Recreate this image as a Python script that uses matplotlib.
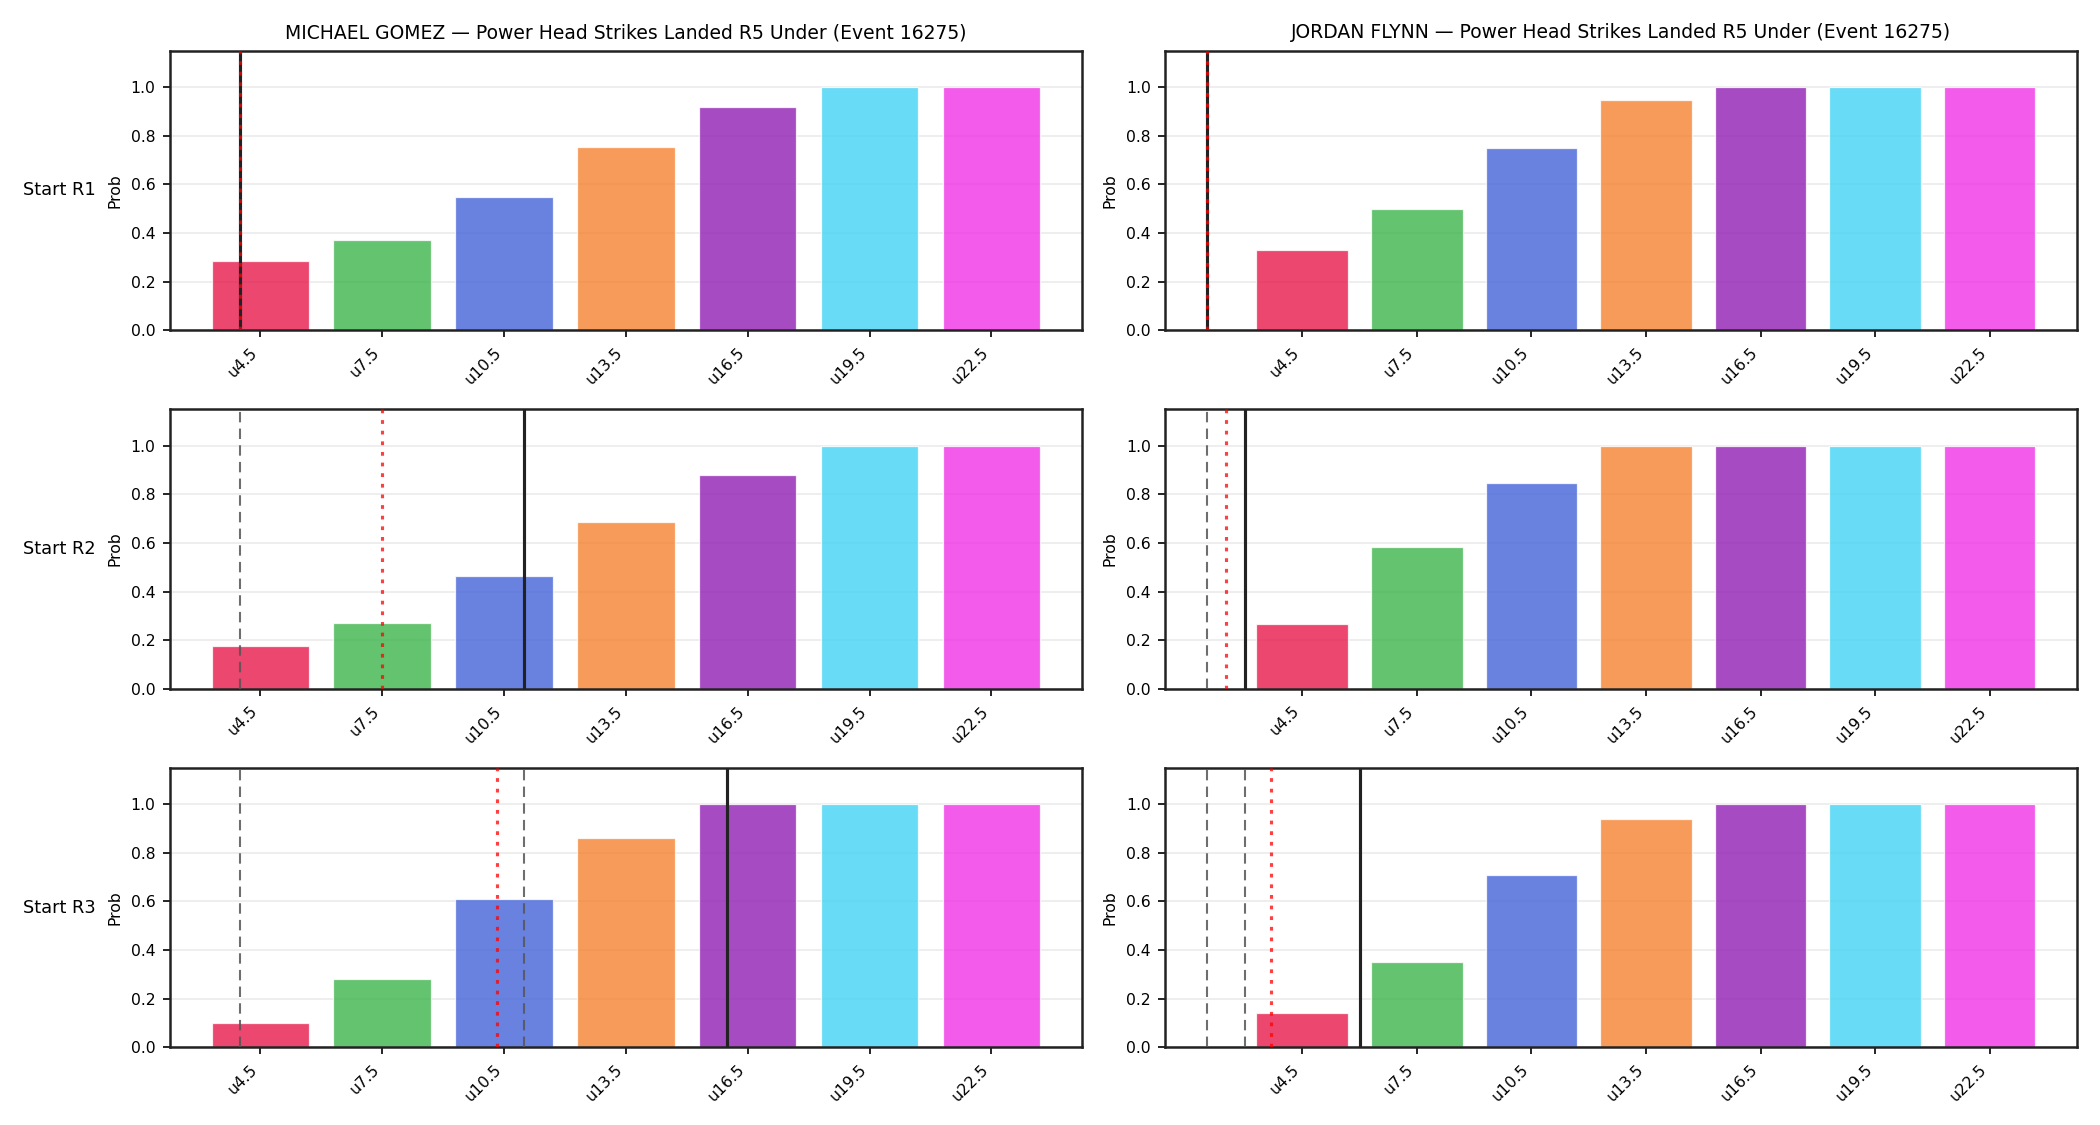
import matplotlib
matplotlib.use("Agg")
import matplotlib.pyplot as plt

thresholds = [4.5, 7.5, 10.5, 13.5, 16.5, 19.5, 22.5]
tick_labels = ["u4.5", "u7.5", "u10.5", "u13.5", "u16.5", "u19.5", "u22.5"]
fighters = ["MICHAEL GOMEZ", "JORDAN FLYNN"]
row_labels = ["Start R1", "Start R2", "Start R3"]
colors = ["#e6194b", "#3cb44b", "#4363d8", "#f58231", "#911eb4", "#42d4f4", "#f032e6"]

# probabilities [fighter][row]
gomez_r1 = [0.285, 0.37, 0.55, 0.755, 0.92, 1.0, 1.0]
gomez_r2 = [0.175, 0.27, 0.465, 0.685, 0.88, 1.0, 1.0]
gomez_r3 = [0.10, 0.28, 0.61, 0.86, 1.0, 1.0, 1.0]
flynn_r1 = [0.33, 0.50, 0.75, 0.945, 1.0, 1.0, 1.0]
flynn_r2 = [0.265, 0.585, 0.845, 1.0, 1.0, 1.0, 1.0]
flynn_r3 = [0.14, 0.35, 0.71, 0.94, 1.0, 1.0, 1.0]

# marker lines: solid (current), dashed (previous), dotted (pace)
gomez_solid = [[4.0], [11.0], [16.0]]
gomez_dashed = [[], [4.0], [4.0, 11.0]]
gomez_dotted = [[4.0], [7.5], [10.33]]
flynn_solid = [[2.0], [3.0], [6.0]]
flynn_dashed = [[], [2.0], [2.0, 3.0]]
flynn_dotted = [[2.0], [2.5], [3.67]]

probs = [[gomez_r1, gomez_r2, gomez_r3], [flynn_r1, flynn_r2, flynn_r3]]
solids = [gomez_solid, flynn_solid]
dasheds = [gomez_dashed, flynn_dashed]
dotteds = [gomez_dotted, flynn_dotted]

fig, axes = plt.subplots(3, 2, figsize=(14, 7.5), dpi=150)
fig.subplots_adjust(left=0.081, right=0.989, top=0.955, bottom=0.069,
                    wspace=0.092, hspace=0.282)

for c in range(2):
    for r in range(3):
        ax = axes[r, c]
        ax.bar(thresholds, probs[c][r], width=2.4, color=colors, alpha=0.8,
               edgecolor="white", linewidth=0.6, zorder=2)
        for x in dasheds[c][r]:
            ax.axvline(x, color="#555555", linestyle=(0, (5, 3)), linewidth=1.0,
                       alpha=0.85, zorder=3)
        for x in solids[c][r]:
            ax.axvline(x, color="#222222", linestyle="-", linewidth=1.5, zorder=3)
        for x in dotteds[c][r]:
            ax.axvline(x, color="red", linestyle=(0, (1.2, 2.2)), linewidth=1.5,
                       alpha=0.75, zorder=4)
        ax.set_ylim(0, 1.15)
        ax.set_xticks(thresholds)
        ax.set_xticklabels(tick_labels, rotation=45, ha="right", fontsize=7.5)
        ax.tick_params(axis="y", labelsize=7.5)
        ax.set_yticks([0.0, 0.2, 0.4, 0.6, 0.8, 1.0])
        ax.grid(axis="y", color="#ebebeb", linewidth=0.8, zorder=0)
        ax.set_axisbelow(True)
        ax.set_ylabel("Prob", fontsize=7.5)
        for s in ax.spines.values():
            s.set_color("#222222")
            s.set_linewidth(1.2)
        if r == 0:
            ax.set_title(f"{fighters[c]} — Power Head Strikes Landed R5 Under (Event 16275)",
                         fontsize=9)

for r in range(3):
    bb = axes[r, 0].get_position()
    fig.text(0.011, (bb.y0 + bb.y1) / 2, row_labels[r], ha="left", va="center",
             fontsize=8.5)

fig.savefig("out.png", dpi=150)
